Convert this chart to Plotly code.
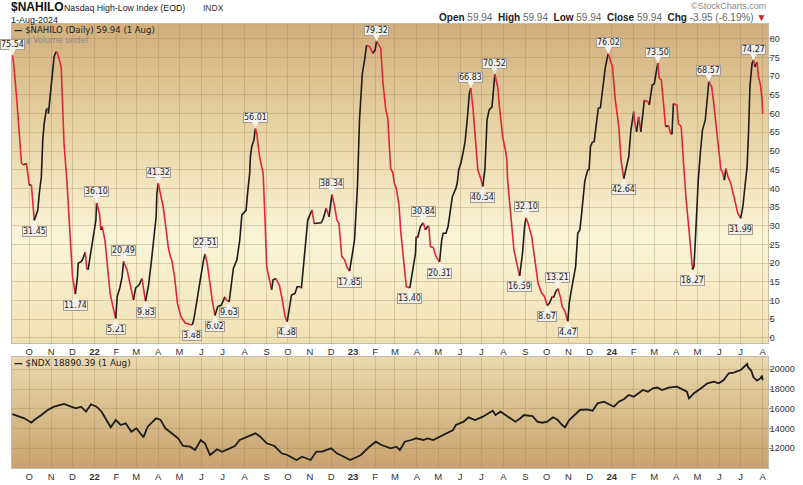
import base64
import pandas as pd
import plotly.graph_objects as go

# $NAHILO daily values
hilo_dates = [
    "2021-09-07", "2021-09-09", "2021-09-13", "2021-09-16", "2021-09-20", "2021-09-23", "2021-09-27", "2021-09-29",
    "2021-10-01", "2021-10-04", "2021-10-06", "2021-10-08", "2021-10-13", "2021-10-15", "2021-10-18", "2021-10-20",
    "2021-10-22", "2021-10-25", "2021-10-27", "2021-10-28", "2021-10-31", "2021-11-03", "2021-11-05", "2021-11-08",
    "2021-11-10", "2021-11-15", "2021-11-19", "2021-11-23", "2021-11-26", "2021-11-29", "2021-12-01", "2021-12-05",
    "2021-12-08", "2021-12-09", "2021-12-13", "2021-12-15", "2021-12-19", "2021-12-21", "2021-12-23", "2021-12-27",
    "2021-12-29", "2022-01-03", "2022-01-04", "2022-01-08", "2022-01-10", "2022-01-12", "2022-01-16", "2022-01-18",
    "2022-01-21", "2022-01-23", "2022-01-27", "2022-01-31", "2022-02-02", "2022-02-06", "2022-02-09", "2022-02-11",
    "2022-02-16", "2022-02-19", "2022-02-23", "2022-02-25", "2022-02-28", "2022-03-02", "2022-03-05", "2022-03-09",
    "2022-03-14", "2022-03-18", "2022-03-22", "2022-03-25", "2022-03-29", "2022-03-30", "2022-04-01", "2022-04-03",
    "2022-04-08", "2022-04-11", "2022-04-15", "2022-04-18", "2022-04-20", "2022-04-24", "2022-04-28", "2022-05-03",
    "2022-05-09", "2022-05-16", "2022-05-19", "2022-05-21", "2022-05-25", "2022-05-28", "2022-05-31", "2022-06-04",
    "2022-06-06", "2022-06-09", "2022-06-13", "2022-06-16", "2022-06-20", "2022-06-24", "2022-06-29", "2022-07-04",
    "2022-07-06", "2022-07-10", "2022-07-16", "2022-07-21", "2022-07-25", "2022-07-28", "2022-08-03", "2022-08-05",
    "2022-08-08", "2022-08-09", "2022-08-11", "2022-08-14", "2022-08-16", "2022-08-18", "2022-08-22", "2022-08-24",
    "2022-08-27", "2022-08-30", "2022-09-01", "2022-09-08", "2022-09-10", "2022-09-14", "2022-09-19", "2022-09-23",
    "2022-09-27", "2022-09-30", "2022-10-04", "2022-10-06", "2022-10-11", "2022-10-14", "2022-10-18", "2022-10-20",
    "2022-10-25", "2022-10-29", "2022-11-04", "2022-11-07", "2022-11-13", "2022-11-17", "2022-11-20", "2022-11-24",
    "2022-11-28", "2022-12-01", "2022-12-02", "2022-12-06", "2022-12-09", "2022-12-12", "2022-12-16", "2022-12-20",
    "2022-12-23", "2022-12-27", "2023-01-03", "2023-01-05", "2023-01-07", "2023-01-10", "2023-01-14", "2023-01-17",
    "2023-01-20", "2023-01-24", "2023-01-29", "2023-02-01", "2023-02-03", "2023-02-07", "2023-02-09", "2023-02-12",
    "2023-02-16", "2023-02-19", "2023-02-23", "2023-02-26", "2023-02-28", "2023-03-03", "2023-03-07", "2023-03-09",
    "2023-03-12", "2023-03-15", "2023-03-17", "2023-03-22", "2023-03-25", "2023-03-30", "2023-03-31", "2023-04-02",
    "2023-04-06", "2023-04-10", "2023-04-13", "2023-04-16", "2023-04-18", "2023-04-20", "2023-04-24", "2023-04-28",
    "2023-05-03", "2023-05-06", "2023-05-08", "2023-05-12", "2023-05-15", "2023-05-19", "2023-05-21", "2023-05-26",
    "2023-05-28", "2023-05-30", "2023-06-02", "2023-06-05", "2023-06-08", "2023-06-11", "2023-06-14", "2023-06-16",
    "2023-06-19", "2023-06-22", "2023-06-26", "2023-06-30", "2023-07-03", "2023-07-06", "2023-07-09", "2023-07-12",
    "2023-07-16", "2023-07-18", "2023-07-20", "2023-07-24", "2023-07-27", "2023-07-31", "2023-08-04", "2023-08-06",
    "2023-08-07", "2023-08-10", "2023-08-13", "2023-08-16", "2023-08-21", "2023-08-24", "2023-08-28", "2023-08-31",
    "2023-09-02", "2023-09-05", "2023-09-10", "2023-09-12", "2023-09-16", "2023-09-19", "2023-09-24", "2023-09-28",
    "2023-10-02", "2023-10-05", "2023-10-09", "2023-10-11", "2023-10-14", "2023-10-17", "2023-10-21", "2023-10-23",
    "2023-10-27", "2023-10-31", "2023-11-02", "2023-11-05", "2023-11-09", "2023-11-11", "2023-11-14", "2023-11-17",
    "2023-11-19", "2023-11-22", "2023-11-24", "2023-11-28", "2023-11-30", "2023-12-02", "2023-12-05", "2023-12-07",
    "2023-12-10", "2023-12-13", "2023-12-16", "2023-12-20", "2023-12-23", "2023-12-27", "2024-01-02", "2024-01-06",
    "2024-01-11", "2024-01-14", "2024-01-18", "2024-01-22", "2024-01-25", "2024-01-28", "2024-02-01", "2024-02-02",
    "2024-02-05", "2024-02-08", "2024-02-11", "2024-02-16", "2024-02-21", "2024-02-23", "2024-02-27", "2024-03-01",
    "2024-03-06", "2024-03-08", "2024-03-11", "2024-03-15", "2024-03-17", "2024-03-21", "2024-03-24", "2024-03-26",
    "2024-03-28", "2024-04-02", "2024-04-04", "2024-04-08", "2024-04-11", "2024-04-13", "2024-04-15", "2024-04-19",
    "2024-04-22", "2024-04-24", "2024-04-26", "2024-04-28", "2024-04-30", "2024-05-02", "2024-05-05", "2024-05-08",
    "2024-05-12", "2024-05-15", "2024-05-17", "2024-05-21", "2024-05-24", "2024-05-27", "2024-06-01", "2024-06-03",
    "2024-06-05", "2024-06-08", "2024-06-10", "2024-06-13", "2024-06-17", "2024-06-20", "2024-06-21", "2024-06-24",
    "2024-06-27", "2024-07-01", "2024-07-04", "2024-07-07", "2024-07-10", "2024-07-12", "2024-07-14", "2024-07-17",
    "2024-07-19", "2024-07-21", "2024-07-24", "2024-07-26", "2024-07-29", "2024-07-31", "2024-08-01",
]
hilo_values = [
    75.54, 73.4, 64.5, 55.6, 46.7, 46.3, 46.7, 44.0,
    40.9, 40.9, 36.9, 31.45, 34.2, 38.5, 43.1, 52.9,
    57.4, 61.0, 61.5, 60.0, 65.4, 71.7, 75.2, 76.6,
    76.0, 72.5, 52.0, 42.2, 33.3, 24.4, 16.4, 11.74,
    16.4, 20.0, 20.4, 20.9, 23.0, 18.6, 18.3, 23.0,
    26.2, 31.6, 36.10, 33.3, 28.9, 29.8, 25.8, 21.8,
    16.4, 12.0, 8.4, 5.21, 11.0, 13.6, 16.4, 20.49,
    18.2, 15.5, 12.0, 10.2, 13.3, 13.7, 14.2, 15.9,
    9.83, 13.7, 20.0, 26.2, 32.4, 38.6, 41.32, 39.6,
    35.1, 30.7, 24.4, 21.8, 20.9, 16.4, 9.3, 5.7,
    4.0, 3.6, 3.48, 4.8, 9.3, 12.4, 16.4, 20.9,
    22.51, 20.0, 14.6, 10.2, 6.02, 8.4, 8.8, 11.0,
    10.2, 9.63, 18.6, 20.9, 26.2, 32.9, 34.2, 38.6,
    44.0, 48.5, 51.2, 52.9, 56.01, 54.7, 48.5, 46.3,
    44.0, 30.0, 19.0, 12.9, 15.5, 15.9, 14.1, 10.2,
    5.7, 4.38, 8.4, 11.5, 11.9, 13.7, 13.7, 13.3,
    24.4, 31.6, 34.2, 30.6, 30.6, 30.8, 32.0, 34.7,
    32.4, 36.9, 38.34, 35.1, 31.6, 30.6, 21.8, 20.9,
    19.1, 17.85, 26.2, 33.3, 40.0, 58.3, 70.8, 74.1,
    78.3, 77.9, 76.1, 77.0, 79.32, 78.3, 77.5, 68.4,
    61.3, 58.6, 45.2, 44.3, 41.5, 40.0, 35.1, 28.9,
    22.6, 17.3, 13.7, 13.40, 17.3, 22.6, 27.1, 26.8,
    29.8, 30.84, 28.9, 29.8, 29.8, 24.4, 24.2, 21.8,
    20.31, 26.2, 28.0, 28.0, 29.8, 35.1, 37.8, 40.0,
    41.5, 45.0, 46.7, 49.4, 52.5, 58.3, 65.4, 66.83,
    61.8, 54.7, 44.9, 42.7, 40.54, 45.2, 58.3, 61.0,
    61.8, 67.2, 70.52, 67.2, 61.0, 53.8, 50.2, 47.6,
    42.2, 36.0, 28.9, 23.5, 19.1, 16.59, 22.6, 29.8,
    32.10, 30.6, 27.1, 24.4, 19.1, 14.7, 12.0, 11.1,
    8.67, 9.3, 11.1, 10.8, 12.4, 13.21, 10.6, 8.4,
    7.1, 4.47, 9.3, 12.8, 16.4, 19.1, 28.0, 28.9,
    32.4, 37.8, 42.0, 44.9, 45.0, 51.2, 52.5, 52.3,
    56.5, 61.4, 61.6, 67.2, 72.5, 76.02, 72.5, 63.6,
    56.5, 47.6, 42.64, 45.8, 48.5, 55.6, 60.5, 58.3,
    55.1, 59.1, 55.1, 63.6, 63.2, 62.3, 67.6, 68.0,
    73.50, 69.5, 69.0, 61.8, 56.5, 56.8, 54.7, 54.5,
    62.7, 62.3, 57.3, 56.5, 47.6, 42.0, 36.9, 28.9,
    20.9, 18.27, 19.1, 26.2, 35.1, 42.0, 49.4, 55.6,
    58.3, 63.6, 68.57, 67.2, 62.7, 57.3, 49.4, 45.0,
    44.5, 42.2, 45.3, 43.1, 41.3, 38.7, 37.8, 35.1,
    33.3, 31.99, 35.1, 40.5, 45.8, 54.7, 67.2, 73.4,
    74.27, 72.5, 73.8, 69.9, 67.5, 63.89, 59.94,
]

# labelled turning points
peak_dates = [
    "2021-09-07", "2022-01-04", "2022-02-11", "2022-04-01", "2022-06-06", "2022-08-16", "2022-12-02", "2023-02-03",
    "2023-04-10", "2023-06-16", "2023-07-20", "2023-09-02", "2023-10-17", "2023-12-27", "2024-03-06", "2024-05-17",
    "2024-07-19",
]
trough_dates = [
    "2021-10-08", "2021-12-05", "2022-01-31", "2022-03-14", "2022-05-19", "2022-06-20", "2022-07-10", "2022-09-30",
    "2022-12-27", "2023-03-22", "2023-05-03", "2023-07-03", "2023-08-24", "2023-10-02", "2023-10-31", "2024-01-18",
    "2024-04-24", "2024-07-01",
]

# $NDX values
ndx_dates = [
    "2021-09-07", "2021-09-17", "2021-09-24", "2021-10-04", "2021-10-08", "2021-10-18", "2021-10-27", "2021-11-05",
    "2021-11-19", "2021-11-29", "2021-12-06", "2021-12-13", "2021-12-20", "2021-12-27", "2022-01-04", "2022-01-11",
    "2022-01-18", "2022-01-24", "2022-01-31", "2022-02-07", "2022-02-14", "2022-02-22", "2022-03-01", "2022-03-11",
    "2022-03-17", "2022-03-29", "2022-04-04", "2022-04-11", "2022-04-20", "2022-04-29", "2022-05-06", "2022-05-16",
    "2022-05-23", "2022-05-31", "2022-06-06", "2022-06-13", "2022-06-23", "2022-06-30", "2022-07-11", "2022-07-18",
    "2022-07-25", "2022-08-05", "2022-08-16", "2022-08-23", "2022-09-01", "2022-09-12", "2022-09-22", "2022-09-30",
    "2022-10-13", "2022-10-21", "2022-11-02", "2022-11-10", "2022-11-18", "2022-12-01", "2022-12-09", "2022-12-19",
    "2022-12-28", "2023-01-12", "2023-01-24", "2023-02-02", "2023-02-10", "2023-02-23", "2023-03-03", "2023-03-08",
    "2023-03-15", "2023-03-24", "2023-03-31", "2023-04-10", "2023-04-16", "2023-04-24", "2023-05-03", "2023-05-12",
    "2023-05-22", "2023-05-26", "2023-06-06", "2023-06-13", "2023-06-22", "2023-07-03", "2023-07-10", "2023-07-17",
    "2023-07-21", "2023-07-28", "2023-08-04", "2023-08-11", "2023-08-18", "2023-08-25", "2023-08-30", "2023-09-11",
    "2023-09-18", "2023-09-25", "2023-10-02", "2023-10-10", "2023-10-16", "2023-10-23", "2023-10-27", "2023-11-02",
    "2023-11-10", "2023-11-17", "2023-11-27", "2023-12-05", "2023-12-12", "2023-12-21", "2024-01-04", "2024-01-11",
    "2024-01-18", "2024-01-25", "2024-02-01", "2024-02-07", "2024-02-14", "2024-02-21", "2024-02-28", "2024-03-05",
    "2024-03-12", "2024-03-21", "2024-04-02", "2024-04-09", "2024-04-16", "2024-04-19", "2024-04-26", "2024-05-06",
    "2024-05-15", "2024-05-24", "2024-05-31", "2024-06-07", "2024-06-14", "2024-06-21", "2024-07-01", "2024-07-10",
    "2024-07-11", "2024-07-16", "2024-07-19", "2024-07-24", "2024-07-29", "2024-07-31", "2024-08-01",
]
ndx_values = [
    15470, 15200, 15040, 14590, 14866, 15370, 15880, 16213,
    16486, 16213, 16050, 16213, 15706, 16456, 16213, 15706,
    14866, 14126, 14866, 14360, 14530, 13680, 14025, 13113,
    14187, 15040, 14900, 14025, 13519, 13012, 12233, 12162,
    11828, 12840, 12506, 11321, 11898, 11655, 11999, 12233,
    12840, 13175, 13519, 13175, 12506, 12233, 11493, 11321,
    10815, 11149, 10815, 11655, 11655, 11999, 11493, 11149,
    10815, 11321, 12162, 12668, 12334, 11999, 12162, 11828,
    12668, 12840, 13012, 12840, 13000, 12840, 13175, 13519,
    13853, 14360, 14693, 15139, 14866, 15200, 15473, 15807,
    15373, 15706, 15373, 15040, 14693, 15040, 15373, 15270,
    14693, 14590, 14693, 15139, 14930, 14360, 14126, 14866,
    15373, 15880, 15950, 15807, 16557, 16720, 16213, 16720,
    16962, 17398, 17225, 17570, 17904, 17735, 18076, 18150,
    17904, 18150, 18238, 17990, 17735, 17063, 17570, 18076,
    18582, 18744, 18582, 18916, 19595, 19660, 19929, 20537,
    20263, 19843, 19190, 18845, 19100, 19360, 18890.39,
]

hilo_ticks = list(range(0, 85, 5))
ndx_ticks = [12000, 14000, 16000, 18000, 20000]
month_ticks = pd.date_range("2021-10-01", "2024-08-01", freq="MS")
month_text = ["<b>%s</b>" % d.strftime("%y") if d.month == 1 else d.strftime("%b")[0] for d in month_ticks]

W, H = 803, 485
L, R, T, B = 12, 35, 24, 17
PW, PH = W - L - R, H - T - B


def px(x):
    return (x - L) / PW


def py(y):
    return (H - B - y) / PH


top_dom = [py(343), 1]
bot_dom = [0, py(357)]


def gradient(stops):
    s = "".join('<stop offset="%s" stop-color="%s"/>' % (o, c) for o, c in stops)
    svg = ('<svg xmlns="http://www.w3.org/2000/svg" width="100" height="100" viewBox="0 0 100 100" '
           'preserveAspectRatio="none"><defs><linearGradient id="g" x1="0" y1="0" x2="0" y2="1">%s'
           '</linearGradient></defs><rect width="100" height="100" fill="url(#g)"/></svg>' % s)
    return "data:image/svg+xml;base64," + base64.b64encode(svg.encode()).decode()


RED, BLACK = "#e0263c", "#1c1c1c"
fig = go.Figure()

# colour each stretch of the line by direction: red when falling, black when rising
runs = []
for i in range(1, len(hilo_values)):
    up = hilo_values[i] >= hilo_values[i - 1]
    if not runs or runs[-1][0] != up:
        runs.append([up, [hilo_dates[i - 1]], [hilo_values[i - 1]]])
    runs[-1][1].append(hilo_dates[i])
    runs[-1][2].append(hilo_values[i])
for up, xs, ys in runs:
    fig.add_trace(go.Scatter(x=xs, y=ys, mode="lines", line=dict(color=BLACK if up else RED, width=1.6),
                             xaxis="x", yaxis="y", showlegend=False, hoverinfo="skip"))

fig.add_trace(go.Scatter(x=ndx_dates, y=ndx_values, mode="lines", line=dict(color=BLACK, width=1.8),
                         xaxis="x2", yaxis="y2", showlegend=False))

hilo = dict(zip(hilo_dates, hilo_values))
for dates, shift in ((peak_dates, -11), (trough_dates, 11)):
    for d in dates:
        fig.add_annotation(x=d, y=hilo[d], xref="x", yref="y", text="%.2f" % hilo[d], showarrow=True,
                           ax=0, ay=shift, arrowhead=2, arrowsize=1.3, arrowwidth=1.2, arrowcolor="#f4f2ee",
                           standoff=0, bgcolor="#f1eee8", bordercolor="#a29c92", borderwidth=1, borderpad=0,
                           font=dict(family="DejaVu Sans", size=8, color="#222"))

grid = "rgba(150,118,70,0.28)"
xfont = dict(family="Liberation Sans", size=9.5, color="#333")
yfont = dict(family="Liberation Sans", size=9, color="#333")
xrange = ["2021-09-06 14:00", "2024-08-08 12:00"]
xcommon = dict(type="date", range=xrange, tickvals=month_ticks, ticktext=month_text, showgrid=True,
               gridcolor=grid, gridwidth=1, ticks="", tickfont=xfont, showline=True, mirror=True,
               linecolor="#c6bca8", zeroline=False, automargin=False)
ycommon = dict(side="right", showgrid=True, gridcolor=grid, ticks="outside", ticklen=3, tickcolor="#999",
               tickfont=yfont, tickformat="d", ticklabelstandoff=-4, showline=True, mirror=True,
               linecolor="#c6bca8", zeroline=False, automargin=False)

fig.update_layout(
    width=W, height=H, margin=dict(l=L, r=R, t=T, b=B, autoexpand=False),
    paper_bgcolor="white", plot_bgcolor="white", showlegend=False,
    xaxis=dict(xcommon, anchor="y"),
    xaxis2=dict(xcommon, anchor="y2", matches="x"),
    yaxis=dict(ycommon, domain=top_dom, range=[-1.34, 83.96], tickvals=hilo_ticks),
    yaxis2=dict(ycommon, domain=bot_dom, range=[10005, 21245], tickvals=ndx_ticks),
    images=[
        dict(source=gradient([(0, "#d2ae7d"), (0.35, "#e9d5a6"), (0.68, "#faf5d8"), (1, "#efe0b2")]),
             xref="paper", yref="paper", x=0, y=1, sizex=1, sizey=1 - top_dom[0], xanchor="left",
             yanchor="top", sizing="stretch", layer="below"),
        dict(source=gradient([(0, "#ead8ad"), (1, "#c8a26d")]),
             xref="paper", yref="paper", x=0, y=bot_dom[1], sizex=1, sizey=bot_dom[1], xanchor="left",
             yanchor="top", sizing="stretch", layer="below"),
    ],
)


def note(x, y, text, size, color="#222", family="Liberation Sans", xanchor="left"):
    fig.add_annotation(x=px(x), y=py(y), xref="paper", yref="paper", text=text, showarrow=False,
                       xanchor=xanchor, yanchor="middle", borderpad=0,
                       font=dict(family=family, size=size, color=color))


note(10, 7, "<b>$NAHILO</b>", 12, "#111")
note(63, 8, "Nasdaq High-Low Index (EOD)", 8.8, "#222")
note(202, 8, "INDX", 8.5, "#333")
note(10, 20, "1-Aug-2024", 9, "#222")
note(767, 6, "©StockCharts.com", 9, "#8a8a8a", xanchor="right")
note(767, 17, "<b>Open</b> <span style='color:#666'>59.94</span>  <b>High</b> <span style='color:#666'>59.94</span>  "
     "<b>Low</b> <span style='color:#666'>59.94</span>  <b>Close</b> <span style='color:#666'>59.94</span>  "
     "<b>Chg</b> <span style='color:#666'>-3.95 (-6.19%)</span> <span style='color:#d0203a'>▼</span>",
     10, "#222", xanchor="right")
note(13, 29.5, "<b>—</b> $NAHILO (Daily) 59.94 (1 Aug)", 8.5, "#222", family="DejaVu Sans")
note(25, 40.5, "<span style='color:#9a9a9a'>▮</span> Volume undef", 8, "#8a8a8a", family="DejaVu Sans")
note(13, 363, "<b>—</b> $NDX 18890.39 (1 Aug)", 8.8, "#222", family="DejaVu Sans")

fig.write_html("out.html", config={"displayModeBar": False},
               post_script="document.body.style.margin='0';")
